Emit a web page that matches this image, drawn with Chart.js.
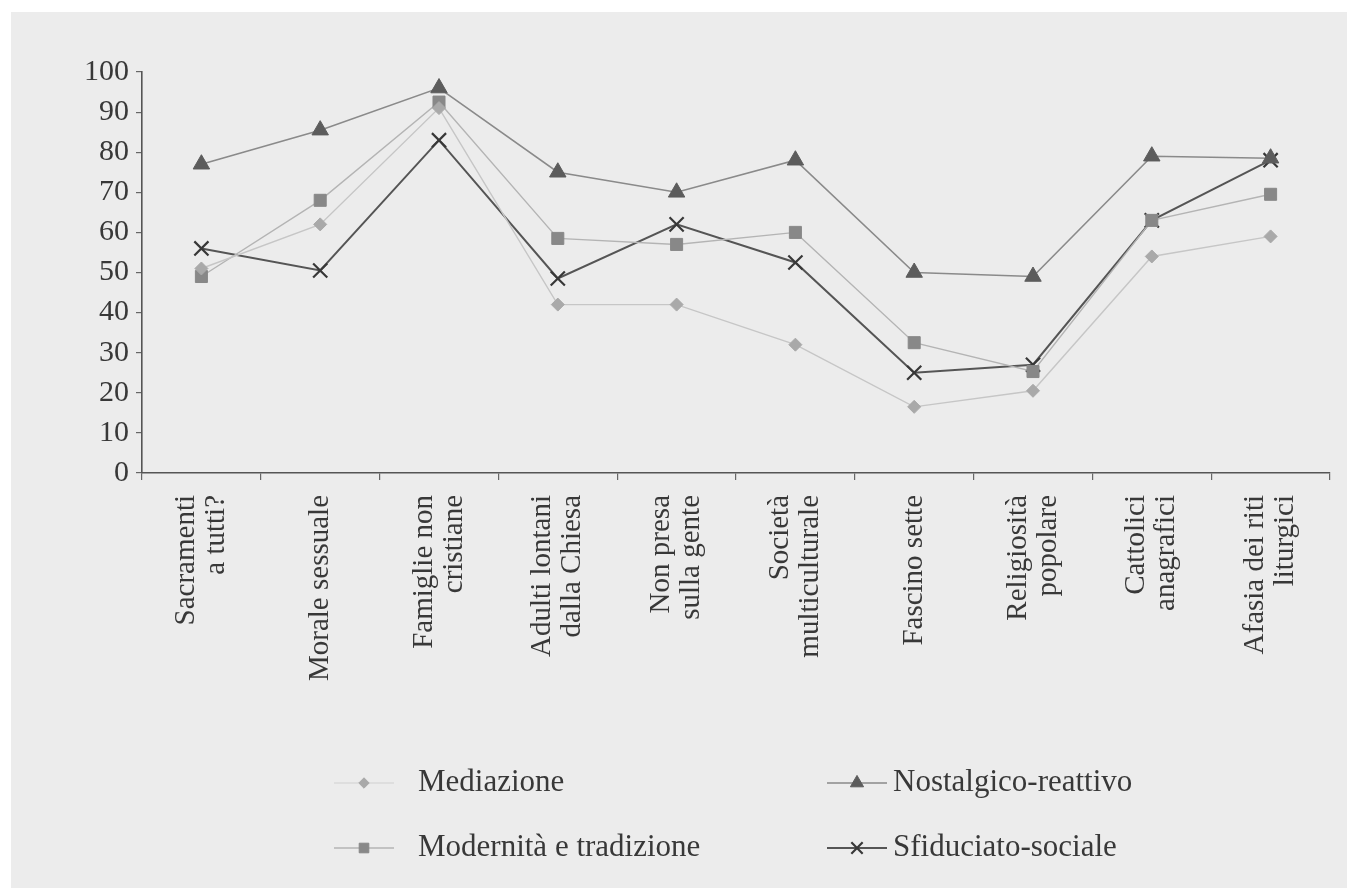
<!DOCTYPE html>
<html>
<head>
<meta charset="utf-8">
<script src="https://cdn.jsdelivr.net/npm/chart.js@4.4.1/dist/chart.umd.min.js"></script>
<style>
html,body{margin:0;padding:0;background:#fff;}
#wrap{width:1347px;height:888px;position:relative;}
canvas{display:block;}
</style>
</head>
<body>
<div id="wrap"><canvas id="c" width="1347" height="888"></canvas></div>
<script>
// ---- data ----
const categories = [
  ["Sacramenti", "a tutti?"],
  ["Morale sessuale"],
  ["Famiglie non", "cristiane"],
  ["Adulti lontani", "dalla Chiesa"],
  ["Non presa", "sulla gente"],
  ["Società", "multiculturale"],
  ["Fascino sette"],
  ["Religiosità", "popolare"],
  ["Cattolici", "anagrafici"],
  ["Afasia dei riti", "liturgici"]
];
const seriesNames = ["Mediazione", "Modernità e tradizione", "Nostalgico-reattivo", "Sfiduciato-sociale"];
const mediazione = [51, 62, 91, 42, 42, 32, 16.5, 20.5, 54, 59];
const modernita  = [49, 68, 92.5, 58.5, 57, 60, 32.5, 25.3, 63, 69.5];
const nostalgico = [77, 85.5, 96, 75, 70, 78, 50, 49, 79, 78.5];
const sfiduciato = [56, 50.5, 83, 48.5, 62, 52.5, 25, 27, 63, 78];
const yTickValues = [0, 10, 20, 30, 40, 50, 60, 70, 80, 90, 100];

const SERIF = '"Liberation Serif", "DejaVu Serif", serif';
const TEXT = '#383838';

const styles = [
  { pointStyle: 'rectRot', line: '#c6c6c6', legendLine: '#dadada', fill: '#a9a9a9', r: 6.5, lw: 1.4, pbw: 1 },
  { pointStyle: 'rect',    line: '#b4b4b4', legendLine: '#b4b4b4', fill: '#888888', r: 8.5, lw: 1.4, pbw: 1 },
  { pointStyle: 'triangle',line: '#8a8a8a', legendLine: '#8a8a8a', fill: '#5c5c5c', r: 9.5, lw: 1.6, pbw: 1 },
  { pointStyle: 'crossRot',line: '#555555', legendLine: '#555555', fill: '#383838', r: 10,  lw: 2.0, pbw: 2.2 }
];
const seriesData = [mediazione, modernita, nostalgico, sfiduciato];

const datasets = seriesNames.map((name, i) => ({
  label: name,
  data: seriesData[i],
  borderColor: styles[i].line,
  borderWidth: styles[i].lw,
  backgroundColor: styles[i].fill,
  pointStyle: styles[i].pointStyle,
  pointRadius: styles[i].r,
  pointHoverRadius: styles[i].r,
  pointBackgroundColor: styles[i].fill,
  pointBorderColor: styles[i].fill,
  pointBorderWidth: styles[i].pbw,
  tension: 0,
  fill: false
}));

const pagePlugin = {
  id: 'page',
  beforeDraw(chart) {
    const ctx = chart.ctx;
    ctx.save();
    ctx.fillStyle = '#ffffff';
    ctx.fillRect(0, 0, chart.width, chart.height);
    ctx.fillStyle = '#ececec';
    ctx.fillRect(11, 12, chart.width - 11, chart.height - 12);
    ctx.restore();
  }
};

const xLabelPlugin = {
  id: 'xLabels',
  afterDraw(chart) {
    const ctx = chart.ctx;
    const xs = chart.scales.x;
    const lh = 30;
    const yStart = xs.top + 22;
    ctx.save();
    ctx.font = '29px ' + SERIF;
    ctx.fillStyle = TEXT;
    ctx.textAlign = 'right';
    ctx.textBaseline = 'middle';
    categories.forEach((lines, i) => {
      const x = xs.getPixelForValue(i);
      ctx.save();
      ctx.translate(x, yStart);
      ctx.rotate(-Math.PI / 2);
      const n = lines.length;
      lines.forEach((t, j) => {
        ctx.fillText(t, 0, (j - (n - 1) / 2) * lh);
      });
      ctx.restore();
    });
    ctx.restore();
  }
};

function drawMarker(ctx, st, x, y) {
  const opts = { pointStyle: st.pointStyle, radius: st.r, borderWidth: st.pbw, rotation: 0 };
  ctx.fillStyle = st.fill;
  ctx.strokeStyle = st.fill;
  ctx.lineWidth = st.pbw;
  if (Chart.helpers && Chart.helpers.drawPoint) {
    Chart.helpers.drawPoint(ctx, opts, x, y);
  }
}

const legendPlugin = {
  id: 'customLegend',
  afterDraw(chart) {
    const ctx = chart.ctx;
    const colMarker = [364, 857];
    const colText = [418, 893];
    const rowY = [783, 848];
    ctx.save();
    ctx.font = '31px ' + SERIF;
    ctx.textBaseline = 'middle';
    ctx.textAlign = 'left';
    seriesNames.forEach((name, i) => {
      const col = Math.floor(i / 2), row = i % 2;
      const st = styles[i];
      const mx = colMarker[col], y = rowY[row];
      ctx.strokeStyle = st.legendLine;
      ctx.lineWidth = st.lw;
      ctx.beginPath();
      ctx.moveTo(mx - 30, y);
      ctx.lineTo(mx + 30, y);
      ctx.stroke();
      drawMarker(ctx, Object.assign({}, st, { r: st.r * 0.8 }), mx, y);
      ctx.fillStyle = TEXT;
      ctx.fillText(name, colText[col], y);
    });
    ctx.restore();
  }
};

new Chart(document.getElementById('c'), {
  type: 'line',
  data: { labels: categories.map(l => l.join(' ')), datasets },
  options: {
    responsive: false,
    animation: false,
    devicePixelRatio: 1,
    layout: { padding: { top: 72, right: 17, left: 0, bottom: 0 } },
    plugins: { legend: { display: false }, tooltip: { enabled: false }, title: { display: false } },
    scales: {
      x: {
        type: 'category',
        offset: true,
        grid: { display: true, drawOnChartArea: false, drawTicks: true, tickLength: 7, offset: true, color: '#666', lineWidth: 1.2 },
        border: { display: true, color: '#555', width: 1.6 },
        ticks: { display: false },
        afterFit(s) { s.height = 888 - 473; }
      },
      y: {
        min: 0,
        max: 100,
        afterBuildTicks(s) { s.ticks = yTickValues.map(v => ({ value: v })); },
        ticks: { font: { family: SERIF, size: 30 }, color: TEXT, padding: 7 },
        grid: { display: true, drawOnChartArea: false, drawTicks: true, tickLength: 6, color: '#666', lineWidth: 1.2 },
        border: { display: true, color: '#555', width: 1.6 },
        afterFit(s) { s.width = 142; }
      }
    }
  },
  plugins: [pagePlugin, xLabelPlugin, legendPlugin]
});
</script>
</body>
</html>
